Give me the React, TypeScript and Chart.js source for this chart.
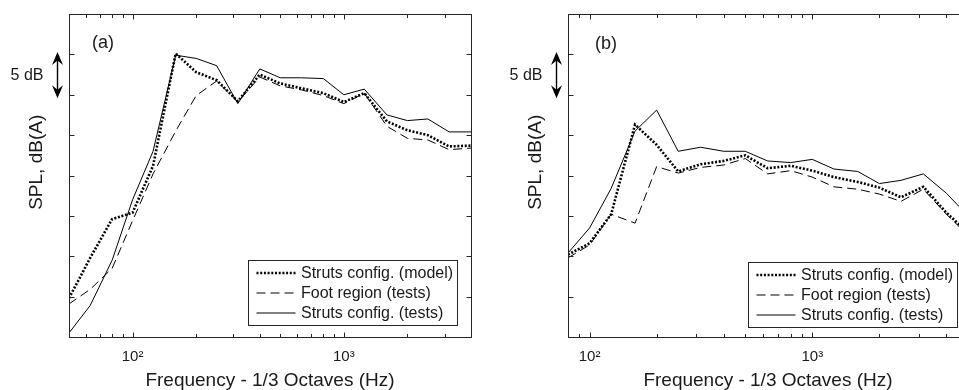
import React, { useEffect, useRef } from 'react';
import { Chart, registerables } from 'chart.js';

Chart.register(...registerables);

// ---------------- data ----------------
const seriesLabels = ['Struts config. (model)', 'Foot region (tests)', 'Struts config. (tests)'];

const freqA = [50, 63, 80, 100, 125, 160, 200, 250, 315, 400, 500, 630, 800, 1000, 1250, 1600, 2000, 2500, 3150, 4000];
const modelA = [44.8, 49.8, 54.6, 55.4, 61.2, 75.1, 72.8, 71.8, 69.2, 72.5, 71.4, 70.8, 70.2, 69.1, 70.2, 66.7, 65.6, 65.0, 63.6, 63.7];
const footA = [44.1, 45.9, 48.5, 54.4, 60.2, 65.5, 69.9, 71.7, 69.1, 72.2, 71.1, 70.6, 69.9, 68.9, 70.2, 66.1, 64.6, 64.4, 63.2, 63.4];
const testsA = [40.5, 43.9, 49.5, 57.0, 63.0, 74.9, 74.5, 73.6, 68.9, 73.2, 72.1, 72.1, 72.0, 70.0, 70.7, 67.5, 66.8, 67.0, 65.4, 65.4];

const freqB = [80, 100, 125, 160, 200, 250, 315, 400, 500, 630, 800, 1000, 1250, 1600, 2000, 2500, 3150, 4000, 5000];
const modelB = [50.2, 51.6, 55.2, 66.3, 63.8, 60.5, 61.4, 61.8, 62.5, 60.9, 61.2, 60.6, 59.8, 59.2, 58.5, 57.3, 58.6, 55.4, 52.9];
const footB = [49.8, 51.4, 55.2, 54.1, 61.1, 60.3, 61.0, 61.3, 62.1, 60.2, 60.6, 59.8, 58.6, 58.3, 57.7, 56.8, 58.3, 55.2, 52.6];
const testsB = [50.4, 53.5, 58.4, 65.5, 68.1, 63.0, 63.5, 63.0, 63.0, 61.8, 61.6, 62.0, 60.8, 60.5, 59.0, 59.4, 60.2, 57.8, 55.0];

const xMajorTicks = [100, 1000];
const xMajorLabels = ['10²', '10³'];
const xMinorTicks = [20, 30, 40, 50, 60, 70, 80, 90, 200, 300, 400, 500, 600, 700, 800, 900, 2000, 3000, 4000, 5000, 6000];
const yRange = [40, 80];
const yStep = 5;
const scaleBar = [70, 75]; // the "5 dB" arrow
const panelLabels = ['(a)', '(b)'];

const FONT = "'Liberation Sans', Arial, Helvetica, sans-serif";
const AXIS = '#262626';
const TEXT = '#1a1a1a';
const LINE = '#000000';

const lineStyles = [
  { borderWidth: 2.6, borderDash: [2, 1.7] },
  { borderWidth: 1, borderDash: [9, 5] },
  { borderWidth: 1, borderDash: [] as number[] },
];

type PanelCfg = {
  label: string;
  freq: number[];
  series: number[][];
  xMin: number;
  xMax: number;
  canvasW: number;
  left: number;
  yAxisW: number;
  padRight: number;
  yTitlePad: number;
  labelDx: number;
  labelDy: number;
  legendDx: number;
  legendDy: number;
};

const panels: PanelCfg[] = [
  {
    label: panelLabels[0], freq: freqA, series: [modelA, footA, testsA],
    xMin: 50, xMax: 4000, canvasW: 480, left: 0, yAxisW: 69, padRight: 9, yTitlePad: 27,
    labelDx: 23, labelDy: 29, legendDx: 179, legendDy: 246,
  },
  {
    label: panelLabels[1], freq: freqB, series: [modelB, footB, testsB],
    xMin: 80, xMax: 5000, canvasW: 500, left: 480, yAxisW: 88, padRight: 12, yTitlePad: 46,
    labelDx: 27, labelDy: 30.5, legendDx: 180, legendDy: 248,
  },
];

function makeFrame(cfg: PanelCfg) {
  return {
    id: 'frame',
    afterDatasetsDraw(chart: any) {
      const { ctx, chartArea: a, scales } = chart;
      const x = scales.x;
      const y = scales.y;
      ctx.save();
      // box
      ctx.strokeStyle = AXIS;
      ctx.lineWidth = 1;
      const L = Math.round(a.left) + 0.5;
      const T = Math.round(a.top) + 0.5;
      const R = Math.round(a.right) + 0.5;
      const B = Math.round(a.bottom) + 0.5;
      ctx.strokeRect(L, T, R - L, B - T);
      // inward ticks
      ctx.beginPath();
      y.ticks.forEach((t: any) => {
        const py = Math.round(y.getPixelForValue(t.value)) + 0.5;
        ctx.moveTo(L, py); ctx.lineTo(L + 5, py);
        ctx.moveTo(R, py); ctx.lineTo(R - 5, py);
      });
      const allX = [...xMinorTicks.map((v) => [v, 3.5]), ...xMajorTicks.map((v) => [v, 5])];
      allX.forEach(([v, len]) => {
        if (v < x.min || v > x.max) return;
        const px = Math.round(x.getPixelForValue(v)) + 0.5;
        ctx.moveTo(px, B); ctx.lineTo(px, B - len);
        ctx.moveTo(px, T); ctx.lineTo(px, T + len);
      });
      ctx.stroke();

      // panel label
      ctx.fillStyle = TEXT;
      ctx.font = `18px ${FONT}`;
      ctx.textAlign = 'left';
      ctx.textBaseline = 'middle';
      ctx.fillText(cfg.label, a.left + cfg.labelDx, a.top + cfg.labelDy);

      // 5 dB scale arrow
      const yTop = y.getPixelForValue(scaleBar[1]) - 2.5;
      const yBot = y.getPixelForValue(scaleBar[0]) + 3.5;
      const ax = Math.round(a.left - 12) + 0.5;
      ctx.strokeStyle = LINE;
      ctx.fillStyle = LINE;
      ctx.lineWidth = 1.4;
      ctx.beginPath();
      ctx.moveTo(ax, yTop + 6);
      ctx.lineTo(ax, yBot - 6);
      ctx.stroke();
      const head = (tip: number, dir: number) => {
        ctx.beginPath();
        ctx.moveTo(ax, tip);
        ctx.lineTo(ax - 5.5, tip + dir * 13);
        ctx.lineTo(ax, tip + dir * 8.5);
        ctx.lineTo(ax + 5.5, tip + dir * 13);
        ctx.closePath();
        ctx.fill();
      };
      head(yTop, 1);
      head(yBot, -1);
      ctx.fillStyle = TEXT;
      ctx.font = `16px ${FONT}`;
      ctx.textAlign = 'right';
      ctx.textBaseline = 'middle';
      ctx.fillText(`${scaleBar[1] - scaleBar[0]} dB`, a.left - 25.5, (yTop + yBot) / 2 + 0.5);

      // legend
      const bx = Math.round(a.left + cfg.legendDx) + 0.5;
      const by = Math.round(a.top + cfg.legendDy) + 0.5;
      const bw = 209;
      const bh = 65;
      ctx.fillStyle = '#ffffff';
      ctx.fillRect(bx, by, bw, bh);
      ctx.strokeStyle = AXIS;
      ctx.lineWidth = 1;
      ctx.setLineDash([]);
      ctx.strokeRect(bx, by, bw, bh);
      chart.data.datasets.forEach((ds: any, i: number) => {
        const ry = by + 12.5 + i * 20;
        ctx.save();
        ctx.strokeStyle = ds.borderColor;
        ctx.lineWidth = ds.borderWidth;
        ctx.setLineDash(ds.borderDash || []);
        ctx.beginPath();
        ctx.moveTo(bx + 8, ry);
        ctx.lineTo(bx + 47, ry);
        ctx.stroke();
        ctx.restore();
        ctx.fillStyle = TEXT;
        ctx.font = `16px ${FONT}`;
        ctx.textAlign = 'left';
        ctx.textBaseline = 'middle';
        ctx.fillText(ds.label, bx + 52.5, ry + 0.5);
      });
      ctx.restore();
    },
  };
}

function Panel({ cfg }: { cfg: PanelCfg }) {
  const ref = useRef<HTMLCanvasElement>(null);
  useEffect(() => {
    const canvas = ref.current!;
    const chart = new Chart(canvas, {
      type: 'line',
      data: {
        datasets: cfg.series.map((s, i) => ({
          label: seriesLabels[i],
          data: cfg.freq.map((f, j) => ({ x: f, y: s[j] })),
          borderColor: LINE,
          backgroundColor: LINE,
          borderWidth: lineStyles[i].borderWidth,
          borderDash: lineStyles[i].borderDash,
          pointRadius: 0,
          tension: 0,
          fill: false,
        })),
      },
      options: {
        animation: false,
        responsive: false,
        events: [],
        layout: { padding: { left: 0, right: cfg.padRight, top: 14, bottom: 0 } },
        plugins: { legend: { display: false }, tooltip: { enabled: false } },
        scales: {
          x: {
            type: 'logarithmic',
            min: cfg.xMin,
            max: cfg.xMax,
            grid: { display: false, drawTicks: false },
            border: { display: false },
            afterBuildTicks: (s: any) => {
              s.ticks = xMajorTicks.map((v) => ({ value: v }));
            },
            afterFit: (s: any) => {
              s.height = 53;
            },
            ticks: {
              autoSkip: false,
              maxRotation: 0,
              minRotation: 0,
              padding: 11,
              color: TEXT,
              font: { size: 15, family: FONT },
              callback: (v: any) => {
                const i = xMajorTicks.indexOf(Number(v));
                return i >= 0 ? xMajorLabels[i] : '';
              },
            },
            title: {
              display: true,
              text: 'Frequency - 1/3 Octaves (Hz)',
              color: TEXT,
              font: { size: 19, family: FONT, lineHeight: 1 },
              padding: { top: 0, bottom: 0 },
            },
          },
          y: {
            type: 'linear',
            min: yRange[0],
            max: yRange[1],
            grid: { display: false, drawTicks: false },
            border: { display: false },
            ticks: { display: false, stepSize: yStep },
            afterFit: (s: any) => {
              s.width = cfg.yAxisW;
            },
            title: {
              display: true,
              text: '     SPL, dB(A)',
              color: TEXT,
              font: { size: 19, family: FONT, lineHeight: 1 },
              padding: { top: cfg.yTitlePad, bottom: 0 },
            },
          },
        },
      } as any,
      plugins: [makeFrame(cfg)],
    });
    return () => chart.destroy();
  }, [cfg]);
  return (
    <canvas
      ref={ref}
      width={cfg.canvasW}
      height={390}
      style={{ position: 'absolute', left: cfg.left, top: 0, width: cfg.canvasW, height: 390, display: 'block' }}
    />
  );
}

export default function App() {
  return (
    <div
      style={{
        position: 'absolute',
        left: 0,
        top: 0,
        width: 959,
        height: 390,
        overflow: 'hidden',
        background: '#ffffff',
      }}
    >
      {panels.map((p) => (
        <Panel key={p.label} cfg={p} />
      ))}
    </div>
  );
}
